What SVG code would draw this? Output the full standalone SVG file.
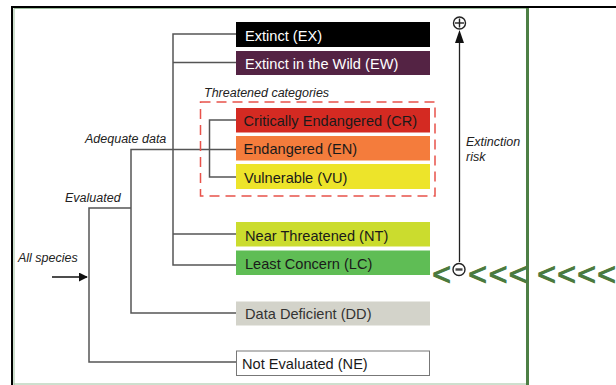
<svg xmlns="http://www.w3.org/2000/svg" width="616" height="385" viewBox="0 0 616 385">
<defs>
<style>
.box text, text.lbl { font-family: "Liberation Sans", Arial, sans-serif; }
.lbltxt { font-size: 14.6px; fill: #1a1a1a; }
.it { font-family: "Liberation Sans", Arial, sans-serif; font-style: italic; font-size: 12.5px; fill: #222; }
.conn { fill: none; stroke: #555; stroke-width: 1.5; }
.chev { font-family: "Liberation Sans", Arial, sans-serif; font-size: 32px; fill: #4a7a3e; stroke: #4a7a3e; stroke-width: 1.1; text-anchor: middle; }
.sym { fill: #fff; stroke: #222; stroke-width: 1.4; }
</style>
<marker id="ah" viewBox="0 0 10 10" refX="9" refY="5" markerWidth="9" markerHeight="9" markerUnits="userSpaceOnUse" orient="auto">
<path d="M0,0 L10,5 L0,10 z" fill="#111"/>
</marker>
</defs>
<rect width="616" height="385" fill="#fff"/>
<!-- frame -->
<g id="frame">
<line x1="11" y1="7" x2="616" y2="7" stroke="#000" stroke-width="2"/>
<line x1="12" y1="6" x2="12" y2="385" stroke="#000" stroke-width="2"/>
<polyline points="14,385 14,8.5 527,8.5" fill="none" stroke="#9dbf9d" stroke-width="1"/>
<line x1="14" y1="384" x2="527" y2="384" stroke="#9dbf9d" stroke-width="1.2"/>
<line x1="527.5" y1="8" x2="527.5" y2="385" stroke="#4d7f45" stroke-width="3"/>
</g>
<!-- connectors -->
<g id="connectors">
<polyline class="conn" points="236,34 173,34 173,265 236,265"/>
<line class="conn" x1="173" y1="62.5" x2="236" y2="62.5"/>
<line class="conn" x1="173" y1="234" x2="236" y2="234"/>
<polyline class="conn" points="236,120 209.5,120 209.5,177 236,177"/>
<polyline class="conn" points="236,149.5 131,149.5 131,313 236,313"/>
<polyline class="conn" points="131,208 89,208 89,362 236,362"/>
<line x1="52" y1="277" x2="87" y2="277" stroke="#111" stroke-width="1.5" marker-end="url(#ah)"/>
</g>
<!-- dashed group -->
<g id="threatened">
<rect x="200.5" y="102" width="234.5" height="94" fill="none" stroke="#e8524a" stroke-width="1.5" stroke-dasharray="10,6"/>
<text class="it" x="204" y="97">Threatened categories</text>
</g>
<!-- nodes -->
<g id="EX" class="box"><rect x="236" y="22" width="194" height="25" fill="#000"/><text class="lbltxt" x="245" y="40.5" style="fill:#fff">Extinct (EX)</text></g>
<g id="EW" class="box"><rect x="236" y="51" width="194" height="24" fill="#542344"/><text class="lbltxt" x="245" y="68.5" style="fill:#fff">Extinct in the Wild (EW)</text></g>
<g id="CR" class="box"><rect x="236" y="108" width="194" height="24.5" fill="#d42a22"/><text class="lbltxt" x="243.5" y="126">Critically Endangered (CR)</text></g>
<g id="EN" class="box"><rect x="236" y="136" width="194" height="24.5" fill="#f47c3c"/><text class="lbltxt" x="243.5" y="154">Endangered (EN)</text></g>
<g id="VU" class="box"><rect x="236" y="164" width="194" height="25" fill="#ede42a"/><text class="lbltxt" x="244" y="182.5">Vulnerable (VU)</text></g>
<g id="NT" class="box"><rect x="236" y="222" width="194" height="24.5" fill="#cbdc2e"/><text class="lbltxt" x="245" y="240.5">Near Threatened (NT)</text></g>
<g id="LC" class="box"><rect x="236" y="250.5" width="194" height="24.5" fill="#5fbd55"/><text class="lbltxt" x="245" y="268.5">Least Concern (LC)</text></g>
<g id="DD" class="box"><rect x="236" y="301.5" width="194" height="24" fill="#d3d3ca"/><text class="lbltxt" x="245" y="319" style="fill:#333">Data Deficient (DD)</text></g>
<g id="NE" class="box"><rect x="236.5" y="351" width="193" height="24.5" fill="#fff" stroke="#777" stroke-width="1"/><text class="lbltxt" x="242" y="369">Not Evaluated (NE)</text></g>
<!-- labels -->
<g id="labels">
<text class="it" x="85" y="143">Adequate data</text>
<text class="it" x="65" y="202">Evaluated</text>
<text class="it" x="18" y="262">All species</text>
<text class="it" x="466" y="146">Extinction</text>
<text class="it" x="466" y="161">risk</text>
</g>
<!-- extinction risk axis -->
<g id="risk-axis">
<line x1="459.5" y1="262" x2="459.5" y2="40" stroke="#222" stroke-width="1.3"/>
<path d="M459.5,30 L464,43 L455,43 z" fill="#111"/>
<circle class="sym" cx="459.5" cy="23" r="6"/>
<line x1="455" y1="23" x2="464" y2="23" stroke="#222" stroke-width="1.4"/>
<line x1="459.5" y1="18.5" x2="459.5" y2="27.5" stroke="#222" stroke-width="1.4"/>
<circle class="sym" cx="459" cy="269.5" r="6" stroke="#444"/>
<line x1="455.5" y1="269.5" x2="462.5" y2="269.5" stroke="#444" stroke-width="2.4"/>
</g>
<g id="chevrons">
<text class="chev" x="441.5" y="284.5">&lt;</text>
<text class="chev" x="477.5" y="284.5">&lt;</text>
<text class="chev" x="498" y="284.5">&lt;</text>
<text class="chev" x="518" y="284.5">&lt;</text>
<text class="chev" x="546.5" y="284.5">&lt;</text>
<text class="chev" x="566.5" y="284.5">&lt;</text>
<text class="chev" x="586.5" y="284.5">&lt;</text>
<text class="chev" x="606.5" y="284.5">&lt;</text>
</g>
</svg>
